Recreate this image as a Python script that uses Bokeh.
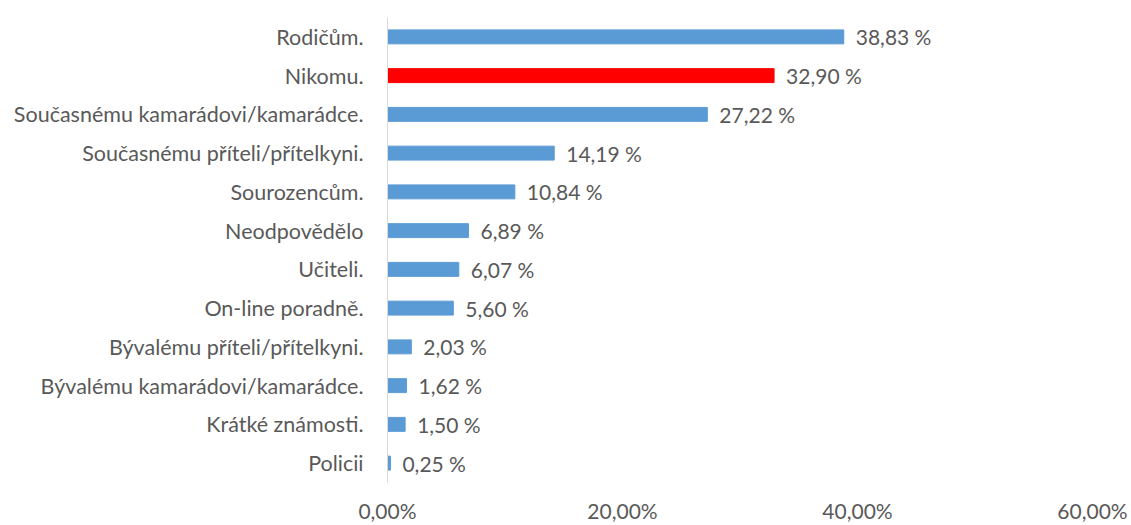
from bokeh.plotting import figure
from bokeh.models import ColumnDataSource, FactorRange, FixedTicker
from bokeh.core.properties import value
from bokeh.embed import file_html
from bokeh.resources import INLINE

categories = ["Rodičům.", "Nikomu.", "Současnému kamarádovi/kamarádce.",
              "Současnému příteli/přítelkyni.", "Sourozencům.", "Neodpovědělo",
              "Učiteli.", "On-line poradně.", "Bývalému příteli/přítelkyni.",
              "Bývalému kamarádovi/kamarádce.", "Krátké známosti.", "Policii"]
values = [38.83, 32.90, 27.22, 14.19, 10.84, 6.89, 6.07, 5.60, 2.03, 1.62, 1.50, 0.25]
highlight = "Nikomu."
x_ticks = [0, 20, 40, 60]

BLUE = "#5B9BD5"
RED = "#FF0000"
TEXT = "#595959"
FONT = "Lato"

colors = [RED if c == highlight else BLUE for c in categories]
labels = [f"{v:.2f}".replace(".", ",") + " %" for v in values]
src = ColumnDataSource(dict(cat=categories, val=values, color=colors, label=labels))

p = figure(width=1131, height=525, output_backend="svg", toolbar_location=None,
           y_range=FactorRange(factors=list(reversed(categories))),
           x_range=(0, 60),
           min_border_left=387, min_border_right=39, min_border_top=17, min_border_bottom=40)
p.outline_line_color = None
p.grid.grid_line_color = None
p.background_fill_color = "white"
p.border_fill_color = "white"

p.hbar(y="cat", right="val", left=0, height=0.36, color="color", source=src)
p.text(x="val", y="cat", text="label", source=src, x_offset=12,
       text_align="left", text_baseline="middle",
       text_font=value(FONT), text_font_size="21px", text_color=TEXT)

xa = p.xaxis[0]
xa.ticker = FixedTicker(ticks=x_ticks)
xa.major_label_overrides = {t: f"{t:.2f}".replace(".", ",") + "%" for t in x_ticks}
xa.axis_line_color = None
xa.major_tick_line_color = None
xa.minor_tick_line_color = None
xa.major_tick_out = 0
xa.major_tick_in = 0
xa.major_label_standoff = 15
xa.major_label_text_font = FONT
xa.major_label_text_font_size = "21px"
xa.major_label_text_color = TEXT

ya = p.yaxis[0]
ya.axis_line_color = "#D9D9D9"
ya.axis_line_width = 1
ya.major_tick_line_color = None
ya.minor_tick_line_color = None
ya.major_tick_out = 0
ya.major_tick_in = 0
ya.major_label_standoff = 24
ya.major_label_text_font = FONT
ya.major_label_text_font_size = "21.5px"
ya.major_label_text_color = TEXT

open("out.html", "w").write(file_html(p, INLINE))
